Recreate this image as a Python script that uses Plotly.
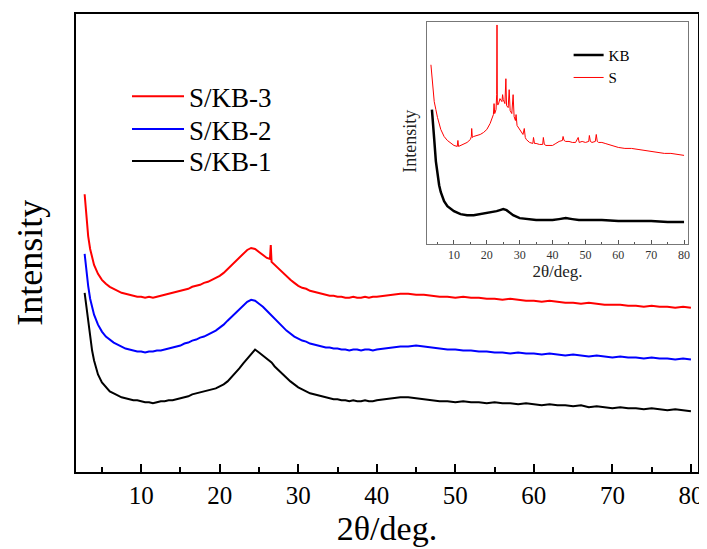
import plotly.graph_objects as go

# ---------------- main chart data ----------------
two_theta = [2.8, 3.0, 3.25, 3.5, 3.75,
             4.0, 4.5, 5.0, 5.5, 6.0, 6.5, 7.0, 7.5, 8.0, 8.5,
             9.0, 9.5, 10.0, 10.5, 11.0, 11.5, 12.0, 12.5, 13.0, 13.5,
             14.0, 14.5, 15.0, 15.5, 16.0, 16.5, 17.0, 17.5, 18.0, 18.5,
             19.0, 19.5, 20.0, 20.5, 21.0, 21.5, 22.0, 22.5, 23.0, 23.5,
             24.0, 24.5, 25.0, 25.5, 26.0, 26.4, 26.5, 26.6, 27.0, 27.5,
             28.0, 28.5, 29.0, 29.5, 30.0, 30.5, 31.0, 31.5, 32.0, 32.5,
             33.0, 33.5, 34.0, 34.5, 35.0, 35.5, 36.0, 36.5, 37.0, 37.5,
             38.0, 38.5, 39.0, 39.5, 40.0,
             41, 42, 43, 44, 45, 46, 47, 48, 49, 50,
             51, 52, 53, 54, 55, 56, 57, 58, 59, 60,
             61, 62, 63, 64, 65, 66, 67, 68, 69, 70,
             71, 72, 73, 74, 75, 76, 77, 78, 79, 80]

skb1 = [180, 167, 150, 134, 122,
        112, 98, 90, 85, 81, 79, 77, 75, 74, 73,
        72, 72, 71, 70, 70, 69, 70, 71, 71, 72,
        72, 73, 74, 75, 76, 78, 79, 80, 81, 82,
        83, 84, 86, 88, 91, 95, 99, 104, 109, 114,
        118, 123, 120, 117, 114, 112, 111, 110, 106, 102,
        98, 94, 91, 88, 85, 83, 81, 79, 78, 77,
        76, 75, 74, 73, 73, 72, 72, 71, 72, 71,
        71, 72, 71, 71, 72,
        73, 74, 75, 75, 74, 73, 72, 71, 71, 70,
        71, 70, 70, 69, 70, 69, 69, 68, 69, 68,
        67, 68, 67, 67, 66, 67, 65, 66, 65, 64,
        65, 64, 64, 63, 64, 63, 62, 63, 62, 61]

skb2 = [219, 204, 187, 174, 165,
        158, 148, 141, 136, 133, 130, 128, 126, 124, 123,
        122, 121, 121, 120, 121, 121, 122, 122, 123, 124,
        125, 126, 127, 129, 130, 132, 133, 135, 136, 138,
        140, 142, 145, 148, 152, 156, 160, 164, 168, 171,
        173, 172, 169, 166, 162, 159, 158, 157, 154, 150,
        146, 142, 139, 136, 134, 132, 131, 129, 128, 127,
        126, 125, 125, 124, 124, 123, 123, 122, 123, 123,
        122, 123, 123, 122, 123,
        124, 125, 126, 126, 127, 126, 125, 124, 123, 123,
        122, 122, 121, 121, 120, 120, 119, 120, 119, 119,
        118, 119, 118, 117, 118, 117, 116, 117, 116, 115,
        116, 115, 115, 114, 115, 114, 114, 113, 114, 113]

skb3 = [279, 257, 237, 224, 215,
        208, 199, 193, 189, 186, 184, 182, 180, 179, 178,
        177, 176, 176, 175, 176, 175, 176, 177, 178, 179,
        180, 181, 182, 183, 184, 186, 187, 188, 190, 191,
        193, 195, 197, 200, 204, 208, 212, 216, 220, 223,
        225, 224, 221, 218, 215, 214, 228, 211, 208, 204,
        200, 196, 193, 190, 187, 185, 184, 182, 181, 180,
        179, 178, 177, 177, 176, 176, 175, 175, 176, 175,
        175, 176, 175, 176, 176,
        177, 178, 179, 179, 178, 178, 177, 176, 176, 175,
        176, 175, 175, 174, 174, 173, 174, 173, 172, 172,
        171, 172, 171, 170, 170, 169, 170, 169, 168, 168,
        168, 167, 167, 166, 167, 166, 166, 165, 166, 165]

main_ticks = [10, 20, 30, 40, 50, 60, 70, 80]

# ---------------- inset data ----------------
s_x = [3.0, 3.5, 4.0, 4.5, 5.0, 6.0, 7.0, 8.0, 9.0, 10.0, 11.0, 11.2, 11.4, 12.0,
       13.0, 14.0, 15.0, 15.3, 15.4, 15.6, 16.0, 17.0, 18.0, 19.0, 20.0, 21.0,
       22.0, 22.2, 22.4, 22.8, 23.0, 23.1, 23.2, 23.5, 24.0, 24.6, 24.8, 25.0,
       25.5, 25.8, 26.0, 26.5, 26.8, 27.1, 27.6, 28.0, 28.3, 28.7, 28.9, 29.2,
       30.0, 31.0, 31.4, 31.7, 32.0, 33.0, 34.0, 34.2, 34.5, 35.0, 36.0, 37.0,
       37.2, 37.5, 38.0, 39.0, 40.0, 41.0, 42.0, 43.0, 43.2, 43.5, 44.0, 45.0,
       46.0, 47.0, 47.8, 48.1, 49.0, 50.0, 51.0, 51.2, 51.5, 52.0, 53.0, 53.3,
       53.6, 54.0, 55.0, 56.0, 57.0, 58.0, 59.0, 60.0, 62.0, 64.0, 66.0, 68.0,
       70.0, 72.0, 74.0, 76.0, 78.0, 80.0]
s_y = [180, 158, 143, 135, 127, 115, 108, 104, 101, 99, 98, 104, 98, 99,
       100, 102, 105, 108, 116, 107, 108, 109, 110, 112, 115, 121,
       130, 141, 131, 135, 150, 220, 140, 140, 146, 143, 150, 145,
       141, 166, 139, 137, 155, 134, 131, 150, 128, 124, 130, 119,
       115, 110, 116, 107, 105, 102, 101, 107, 101, 101, 100, 100,
       107, 100, 99, 99, 99, 101, 103, 104, 108, 104, 103, 103,
       102, 102, 107, 102, 103, 102, 103, 109, 103, 102, 103, 110,
       103, 102, 102, 101, 100, 99, 98, 97, 96, 96, 95, 94,
       93, 92, 91, 91, 90, 89]

kb_x = [3.3, 3.6, 4.0, 4.5, 5.0, 5.5, 6.0, 6.5, 7.0, 8.0, 9.0, 10.0, 12.0, 14.0,
        16.0, 18.0, 20.0, 22.0, 23.0, 24.0, 25.0, 26.0, 27.0, 28.0, 30.0, 32.0,
        35.0, 38.0, 40.0, 42.0, 44.0, 46.0, 48.0, 50.0, 55.0, 60.0, 65.0, 70.0,
        75.0, 80.0]
kb_y = [135, 118, 105, 83, 69, 59, 52, 47, 43, 38, 35, 33, 30, 29,
        29, 30, 31, 32, 33, 34, 35, 34, 31, 29, 26, 25,
        24, 24, 24, 25, 26, 25, 24, 24, 24, 23, 23, 23,
        22, 22]

inset_ticks = [10, 20, 30, 40, 50, 60, 70, 80]

SERIF = "Liberation Serif, Times New Roman, serif"

fig = go.Figure()
fig.add_trace(go.Scatter(x=two_theta, y=skb3, mode="lines", name="S/KB-3",
                         line=dict(color="#ff0000", width=2), legend="legend"))
fig.add_trace(go.Scatter(x=two_theta, y=skb2, mode="lines", name="S/KB-2",
                         line=dict(color="#0000ff", width=2), legend="legend3"))
fig.add_trace(go.Scatter(x=two_theta, y=skb1, mode="lines", name="S/KB-1",
                         line=dict(color="#000000", width=2), legend="legend4"))

fig.add_trace(go.Scatter(x=kb_x, y=kb_y, mode="lines", name="KB",
                         line=dict(color="#000000", width=2.5),
                         xaxis="x2", yaxis="y2", legend="legend2"))
fig.add_trace(go.Scatter(x=s_x, y=s_y, mode="lines", name="S",
                         line=dict(color="#ff0000", width=1),
                         xaxis="x2", yaxis="y2", legend="legend2"))

main_legend_style = dict(xanchor="left", yanchor="middle",
                         bgcolor="rgba(0,0,0,0)", borderwidth=0,
                         font=dict(size=27, family=SERIF, color="black"),
                         itemwidth=52)

# plot area of the main axes: 622 x 460 px
fig.update_layout(
    width=699, height=541, autosize=False,
    margin=dict(l=68, r=9, t=4, b=77),
    paper_bgcolor="white", plot_bgcolor="white",
    font=dict(family=SERIF, color="black"),
    xaxis=dict(domain=[0, 1], range=[1.7, 80.9], tickvals=main_ticks,
               ticks="inside", ticklen=8, tickwidth=1.5, tickcolor="black",
               minor=dict(dtick=5, tick0=0, ticks="inside", ticklen=5,
                          tickwidth=1.5, tickcolor="black"),
               showline=True, linewidth=2, linecolor="black", mirror=True,
               showgrid=False, zeroline=False,
               tickfont=dict(size=25, family=SERIF, color="black"),
               title=dict(text="2θ/deg.", font=dict(size=34, family=SERIF),
                          standoff=8)),
    yaxis=dict(domain=[0, 1], range=[0, 460], showticklabels=False, ticks="",
               showline=True, linewidth=2, linecolor="black", mirror=True,
               showgrid=False, zeroline=False),
    xaxis2=dict(domain=[0.5643, 0.9839], anchor="y2", range=[1.8, 81.2],
                tickvals=inset_ticks, ticks="inside", ticklen=4, tickwidth=1,
                tickcolor="#555555",
                minor=dict(dtick=5, tick0=0, ticks="inside", ticklen=2.5,
                           tickwidth=1, tickcolor="#555555"),
                showline=True, linewidth=1, linecolor="#777777", mirror=True,
                showgrid=False, zeroline=False,
                tickfont=dict(size=12, family=SERIF, color="#333333"),
                title=dict(text="2θ/deg.", font=dict(size=17, family=SERIF,
                                                    color="#222222"),
                           standoff=2)),
    yaxis2=dict(domain=[0.4978, 0.9826], anchor="x2", range=[0, 223],
                showticklabels=False, ticks="",
                showline=True, linewidth=1, linecolor="#777777", mirror=True,
                showgrid=False, zeroline=False),
    legend=dict(x=0.082, y=(472 - 95) / 460, **main_legend_style),
    legend3=dict(x=0.082, y=(472 - 128) / 460, **main_legend_style),
    legend4=dict(x=0.082, y=(472 - 160) / 460, **main_legend_style),
    legend2=dict(x=0.792, y=0.946, xanchor="left", yanchor="top",
                 bgcolor="rgba(0,0,0,0)", borderwidth=0,
                 font=dict(size=15, family=SERIF, color="black"),
                 itemwidth=30),
    showlegend=True,
    annotations=[
        dict(text="Intensity", xref="paper", yref="paper",
             x=-0.073, y=0.456, textangle=-90, showarrow=False,
             xanchor="center", yanchor="middle",
             font=dict(size=36, family=SERIF, color="black")),
        dict(text="Intensity", xref="paper", yref="paper",
             x=0.537, y=0.721, textangle=-90, showarrow=False,
             xanchor="center", yanchor="middle",
             font=dict(size=18, family=SERIF, color="#222222")),
    ],
)

fig.write_html("out.html")
